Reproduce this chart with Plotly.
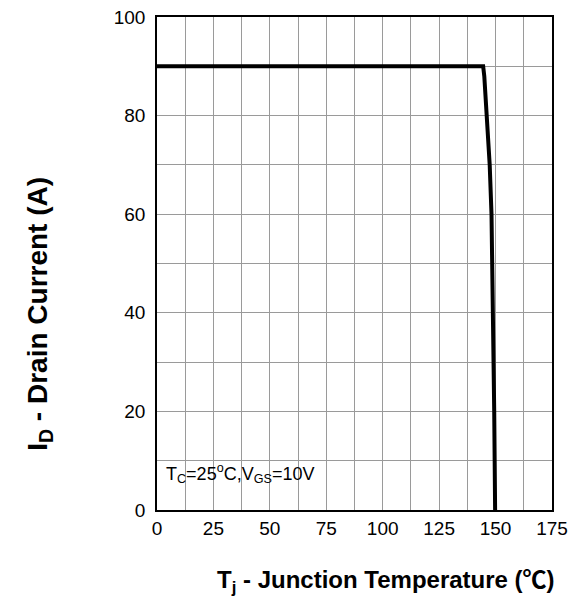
import plotly.graph_objects as go

# Drain current derating vs junction temperature
tj = [0, 144.5, 145.0, 146.2, 147.4, 148.2, 148.6, 148.9, 149.2, 149.4, 149.6, 149.8]
id_a = [90, 90, 88, 80, 70, 60, 50, 40, 30, 20, 10, 0]

x_ticks = [0, 25, 50, 75, 100, 125, 150, 175]
y_ticks = [0, 20, 40, 60, 80, 100]

FONT = "Liberation Sans, Arial"

fig = go.Figure()
fig.add_trace(go.Scatter(x=tj, y=id_a, mode="lines",
                         line=dict(color="black", width=4),
                         showlegend=False, hoverinfo="skip"))

axis_common = dict(
    showline=True, linecolor="black", linewidth=1.5, mirror=True,
    showgrid=True, gridcolor="#9a9a9a", gridwidth=1,
    zeroline=False, color="black", automargin=False,
    tickfont=dict(family=FONT, size=19, color="black"),
)

fig.update_xaxes(range=[0, 175], tickvals=x_ticks, ticks="",
                 minor=dict(dtick=12.5, tick0=0, showgrid=True, gridcolor="#9a9a9a", gridwidth=1),
                 **axis_common)
# transparent outside ticks just to push the labels away from the axis line
fig.update_yaxes(range=[0, 100], tickvals=y_ticks,
                 ticks="outside", ticklen=6, tickcolor="rgba(0,0,0,0)",
                 minor=dict(dtick=10, tick0=0, showgrid=True, gridcolor="#9a9a9a", gridwidth=1),
                 **axis_common)

# Axis titles
fig.add_annotation(xref="paper", yref="paper", x=0.58, y=-0.138,
                   xanchor="center", yanchor="middle", showarrow=False,
                   text=("<b>T<sub>j</sub> - Junction Temperature "
                         "(<span style=\"font-family:Noto Sans CJK SC\">℃</span>)</b>"),
                   font=dict(family=FONT, size=24, color="black"))
fig.add_annotation(xref="paper", yref="paper", x=-0.296, y=0.398,
                   xanchor="center", yanchor="middle", showarrow=False, textangle=-90,
                   text="<b>I<sub>D</sub> - Drain Current (A)</b>",
                   font=dict(family=FONT, size=28, color="black"))

fig.add_annotation(x=3, y=7.5, xref="x", yref="y", xanchor="left", yanchor="middle",
                   text="T<sub>C</sub>=25<sup>o</sup>C,V<sub>GS</sub>=10V",
                   showarrow=False,
                   font=dict(family=FONT, size=18, color="black"))

fig.update_layout(width=575, height=603,
                  margin=dict(l=157, r=23, t=17, b=93),
                  plot_bgcolor="white", paper_bgcolor="white")

fig.write_html("out.html")
